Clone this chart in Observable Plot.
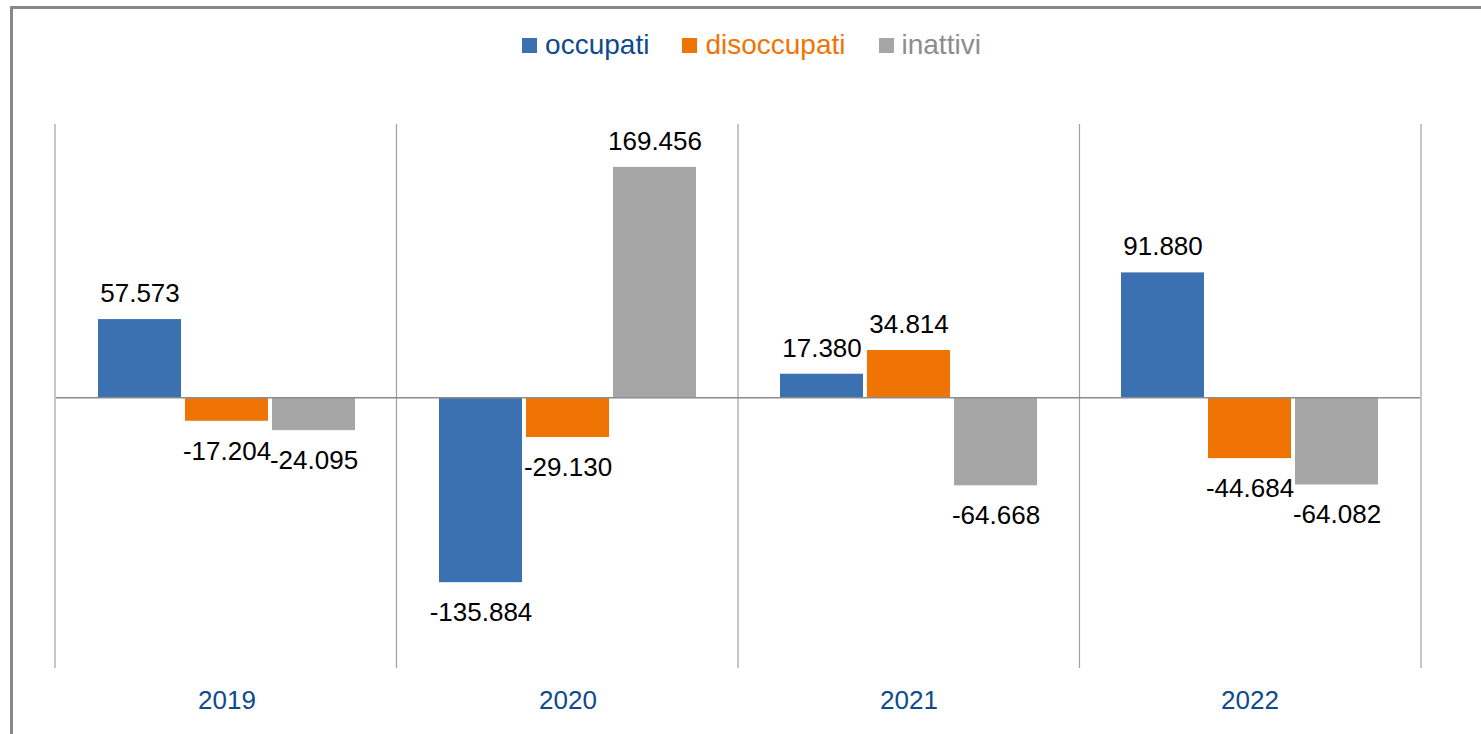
<!DOCTYPE html>
<html>
<head>
<meta charset="utf-8">
<script src="https://cdn.jsdelivr.net/npm/d3@7"></script>
<script src="https://cdn.jsdelivr.net/npm/@observablehq/plot@0.6"></script>
<style>
  html, body { margin: 0; padding: 0; background: #fff; overflow: hidden; width: 1481px; height: 734px; }
  body { font-family: "Liberation Sans", Arial, sans-serif; position: relative; }
  #frame { position: absolute; left: 10px; top: 6px; width: 1600px; height: 900px; border: 3px solid #888; box-sizing: border-box; pointer-events: none; }
  #legend { height: 90px; display: flex; justify-content: center; align-items: flex-start; box-sizing: border-box; }
  #legend .inner { margin-top: 28px; display: flex; gap: 33px; font-size: 28px; line-height: 34px; padding-left: 22px; }
  #legend .item { display: flex; align-items: center; }
  #legend .sw { width: 15px; height: 15px; margin-right: 8px; }
  #chart { position: relative; }
</style>
</head>
<body>
<div id="legend"><div class="inner"></div></div>
<div id="chart"></div>
<div id="frame"></div>
<script>
const years = ["2019", "2020", "2021", "2022"];
const series = ["occupati", "disoccupati", "inattivi"];
const occupati = [57573, -135884, 17380, 91880];
const disoccupati = [-17204, -29130, 34814, -44684];
const inattivi = [-24095, 169456, -64668, -64082];
const barColors = ["#3b71b0", "#f07404", "#a6a6a6"];
const legendTextColors = ["#0f4a8f", "#f07404", "#8c8c8c"];
const yearColor = "#0f4a8f";

const valuesBySeries = {occupati, disoccupati, inattivi};
const data = [];
years.forEach((y, i) => series.forEach(s => data.push({year: y, series: s, value: valuesBySeries[s][i]})));

const it = d3.formatLocale({decimal: ",", thousands: ".", grouping: [3], currency: ["", "€"], minus: "-"});
const fmt = it.format(",d");

// legend
const inner = document.querySelector("#legend .inner");
series.forEach((s, i) => {
  const item = document.createElement("div");
  item.className = "item";
  item.innerHTML = `<div class="sw" style="background:${barColors[i]}"></div><span style="color:${legendTextColors[i]}">${s}</span>`;
  inner.appendChild(item);
});

const plot = Plot.plot({
  width: 1481,
  height: 644,
  marginTop: 34,
  marginBottom: 66,
  marginLeft: 55,
  marginRight: 60,
  style: {fontFamily: "Liberation Sans, Arial, sans-serif", fontSize: "26px", background: "transparent", overflow: "visible"},
  fx: {domain: years, padding: 0, label: null},
  x: {domain: series, paddingInner: 0.045, paddingOuter: 0.463, axis: null},
  y: {domain: [-199000, 201000], axis: null},
  color: {domain: series, range: barColors},
  marks: [
    Plot.axisFx({anchor: "bottom", tickSize: 0, tickPadding: 22, fontSize: 26, color: yearColor, label: null}),
    Plot.barY(data, {fx: "year", x: "series", y: "value", fill: "series", insetLeft: 0, insetRight: 0}),
    Plot.ruleY([0], {stroke: "#8c8c8c", strokeWidth: 1.5}),
    Plot.text(data.filter(d => d.value >= 0), {fx: "year", x: "series", y: "value", text: d => fmt(d.value), dy: -26, lineAnchor: "middle", fill: "#000", fontSize: 26}),
    Plot.text(data.filter(d => d.value < 0), {fx: "year", x: "series", y: "value", text: d => fmt(d.value), dy: 30, lineAnchor: "middle", fill: "#000", fontSize: 26})
  ]
});

document.getElementById("chart").appendChild(plot);

// vertical separators at facet boundaries, from the fx and y scales
const fxS = plot.scale("fx");
const yS = plot.scale("y");
const r0 = fxS.range[0], r1 = fxS.range[1];
const n = fxS.domain.length;
const bounds = d3.range(n + 1).map(i => r0 + i * (r1 - r0) / n);
const yTop = Math.min(...yS.range), yBot = Math.max(...yS.range);
d3.select(plot).insert("g", ":first-child")
  .attr("stroke", "#a0a0a0").attr("stroke-width", 1.2)
  .selectAll("line").data(bounds).join("line")
  .attr("x1", d => d).attr("x2", d => d)
  .attr("y1", yTop).attr("y2", yBot);
</script>
</body>
</html>
